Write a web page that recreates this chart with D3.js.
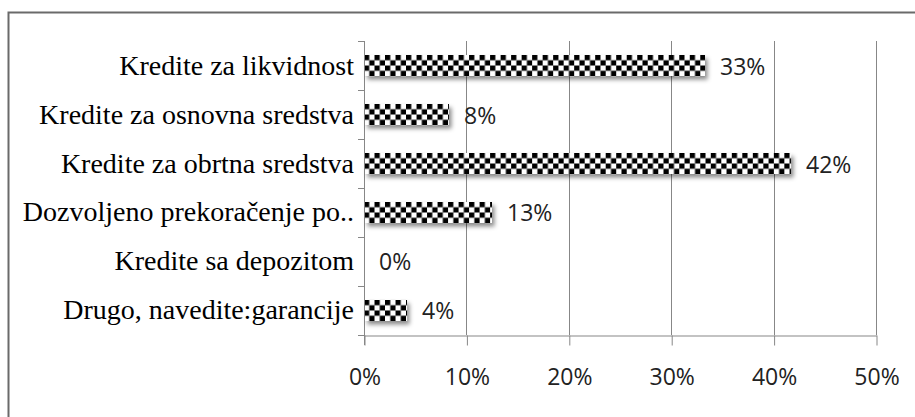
<!DOCTYPE html>
<html>
<head>
<meta charset="utf-8">
<script src="https://cdn.jsdelivr.net/npm/d3@7"></script>
<style>
  html, body { margin: 0; padding: 0; background: #fff; }
  svg { display: block; }
</style>
</head>
<body>
<svg id="chart" width="915" height="417"></svg>
<script>
const categories = [
  "Kredite za likvidnost",
  "Kredite za osnovna sredstva",
  "Kredite za obrtna sredstva",
  "Dozvoljeno prekoračenje po..",
  "Kredite sa depozitom",
  "Drugo, navedite:garancije"
];
const values = [0.333, 0.083, 0.417, 0.125, 0, 0.042];
const xTicks = [0, 0.1, 0.2, 0.3, 0.4, 0.5];

const svg = d3.select("#chart");
const W = 915, H = 417;
const plot = { left: 364, right: 876, top: 41, bottom: 335 };

// outer frame (cropped: only left and top visible)
svg.append("path")
  .attr("d", `M8.5,${H} L8.5,12.5 L915,12.5`)
  .attr("fill", "none")
  .attr("stroke", "#6a6a6a")
  .attr("stroke-width", 2);

const x = d3.scaleLinear().domain([0, 0.5]).range([plot.left, plot.right]);
const y = d3.scaleBand().domain(categories).range([plot.top, plot.bottom])
  .paddingInner(0.571).paddingOuter(0.286);

const defs = svg.append("defs");
const f = defs.append("filter").attr("id", "shadow")
  .attr("x", "-10%").attr("y", "-30%").attr("width", "130%").attr("height", "190%");
f.append("feDropShadow").attr("dx", 2.5).attr("dy", 3.5).attr("stdDeviation", 2.2)
  .attr("flood-color", "#000").attr("flood-opacity", 0.45);

const cell = y.bandwidth() / 4;
categories.forEach((c, i) => {
  const p = defs.append("pattern").attr("id", "chk" + i)
    .attr("patternUnits", "userSpaceOnUse")
    .attr("x", plot.left).attr("y", y(c))
    .attr("width", cell * 2).attr("height", cell * 2);
  p.append("rect").attr("width", cell * 2).attr("height", cell * 2).attr("fill", "#fff");
  p.append("rect").attr("width", cell).attr("height", cell).attr("fill", "#000");
  p.append("rect").attr("x", cell).attr("y", cell).attr("width", cell).attr("height", cell).attr("fill", "#000");
});

// gridlines
svg.append("g").selectAll("line").data(xTicks.slice(1)).join("line")
  .attr("x1", d => Math.round(x(d)) + 0.5).attr("x2", d => Math.round(x(d)) + 0.5)
  .attr("y1", plot.top).attr("y2", plot.bottom)
  .attr("stroke", "#878787").attr("stroke-width", 1);

// x axis
const xAxis = d3.axisBottom(x).tickValues(xTicks).tickFormat(d3.format(".0%"))
  .tickSize(10).tickSizeOuter(0).tickPadding(23);
const gx = svg.append("g").attr("transform", `translate(0.5,${plot.bottom + 0.5})`).call(xAxis);
gx.select(".domain").attr("stroke", "#878787");
gx.selectAll(".tick line").attr("stroke", "#878787");
gx.selectAll(".tick text")
  .attr("font-family", "'Open Sans', sans-serif").attr("font-size", 23)
  .attr("fill", "#222");

// y axis (ticks at band boundaries)
const boundaries = d3.range(categories.length + 1).map(i => plot.top + i * y.step());
svg.append("line")
  .attr("x1", plot.left + 0.5).attr("x2", plot.left + 0.5)
  .attr("y1", plot.top).attr("y2", plot.bottom + 10)
  .attr("stroke", "#878787");
svg.append("g").selectAll("line").data(boundaries).join("line")
  .attr("x1", plot.left - 6).attr("x2", plot.left + 0.5)
  .attr("y1", d => Math.round(d) + 0.5).attr("y2", d => Math.round(d) + 0.5)
  .attr("stroke", "#878787");

// category labels
svg.append("g").selectAll("text").data(categories).join("text")
  .attr("x", 354).attr("y", d => y(d) + y.bandwidth() / 2 + 9)
  .attr("text-anchor", "end")
  .attr("font-family", "'Liberation Serif', 'Times New Roman', serif")
  .attr("font-size", 28)
  .attr("fill", "#000")
  .text(d => d);

// bars
svg.append("g").selectAll("rect").data(categories).join("rect")
  .attr("x", plot.left + 1).attr("y", d => y(d))
  .attr("width", (d, i) => Math.max(0, x(values[i]) - plot.left - 1))
  .attr("height", y.bandwidth())
  .attr("fill", (d, i) => `url(#chk${i})`)
  .attr("filter", "url(#shadow)");

// data labels
svg.append("g").selectAll("text").data(categories).join("text")
  .attr("x", (d, i) => x(values[i]) + 15)
  .attr("y", d => y(d) + y.bandwidth() / 2 + 9)
  .attr("font-family", "'Open Sans', sans-serif")
  .attr("font-size", 23)
  .attr("fill", "#222")
  .text((d, i) => d3.format(".0%")(values[i]));
</script>
</body>
</html>
